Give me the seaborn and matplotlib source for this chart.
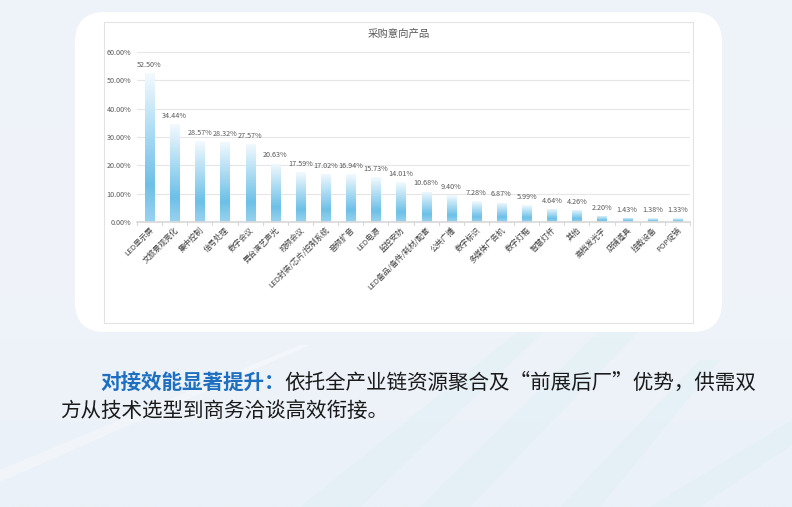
import numpy as np
import matplotlib
matplotlib.use('Agg')
import matplotlib.pyplot as plt
import seaborn as sns
import pandas as pd
from matplotlib.patches import FancyBboxPatch, Rectangle, Polygon
from matplotlib.colors import LinearSegmentedColormap

# --- data ---
products = ['LED显示屏', '文旅景观亮化', '集中控制', '信号处理', '数字会议', '舞台演艺声光',
            '视频会议', 'LED封装/芯片/控制系统', '音频扩音', 'LED电源', '监控安防',
            'LED备品/备件/耗材/配套', '公共广播', '数字标识', '多媒体广告机', '数字灯箱',
            '智慧灯杆', '其他', '高档发光字', '店铺道具', '挂载设备', 'POP促销']
share = [52.50, 34.44, 28.57, 28.32, 27.57, 20.63, 17.59, 17.02, 16.94, 15.73, 14.01,
         10.68, 9.40, 7.28, 6.87, 5.99, 4.64, 4.26, 2.20, 1.43, 1.38, 1.33]
y_ticks = [0, 10, 20, 30, 40, 50, 60]
title = '采购意向产品'
lead = '对接效能显著提升：'
body1 = '依托全产业链资源聚合及“前展后厂”优势，供需双'
body2 = '方从技术选型到商务洽谈高效衔接。'

df = pd.DataFrame({'product': products, 'share': share})

sns.set_theme(style='white')
plt.rcParams['font.family'] = ['Noto Sans CJK SC', 'DejaVu Sans']

W, H = 792, 507
fig = plt.figure(figsize=(W / 100, H / 100), dpi=100)

# --- page background ---
bg = fig.add_axes([0, 0, 1, 1], zorder=-10)
bg.set_xlim(0, W)
bg.set_ylim(H, 0)
bg.axis('off')
grad = np.linspace(0, 1, 256).reshape(-1, 1)
bg_cmap = LinearSegmentedColormap.from_list('bg', ['#eef2f9', '#f0f4fa', '#eaf1f8'])
bg.imshow(grad, cmap=bg_cmap, extent=[0, W, H, 0], aspect='auto')
streaks = [
    [(300, 507), (520, 330), (545, 330), (360, 507)],
    [(420, 507), (600, 330), (640, 330), (470, 507)],
    [(560, 507), (700, 360), (720, 360), (600, 507)],
    [(650, 507), (792, 420), (792, 445), (700, 507)],
]
for pts in streaks:
    bg.add_patch(Polygon(pts, closed=True, facecolor='#d8f0f2', edgecolor='none', alpha=0.3))
bg.add_patch(Polygon([(0, 470), (300, 345), (310, 345), (0, 482)], facecolor='#ffffff',
                     edgecolor='none', alpha=0.35))

# white rounded card
bg.add_patch(FancyBboxPatch((75 + 30, 12 + 30), 647 - 60, 320 - 60,
                            boxstyle='round,pad=30', facecolor='white', edgecolor='none'))
# chart frame
bg.add_patch(Rectangle((104, 22), 589, 301, facecolor='none', edgecolor='#e3e3e3', lw=0.8))

bg.text(399, 34, title, ha='center', va='center', fontsize=7.5, color='#595959')

# --- bar chart ---
ax = fig.add_axes([137 / W, 1 - 222 / H, (690 - 137) / W, (222 - 52) / H])
sns.barplot(data=df, x='product', y='share', ax=ax, width=0.36, color='#6cc0e8',
            saturation=1, edgecolor='none')
ax.set_ylim(0, 60)
ax.set_xlim(-0.5, len(products) - 0.5)
ax.set_yticks(y_ticks)
ax.set_yticklabels([f'{v:.2f}%' for v in y_ticks], fontsize=5.2, color='#595959')
ax.yaxis.grid(True, color='#e6e6e6', lw=0.8)
ax.set_axisbelow(True)
ax.set_xlabel('')
ax.set_ylabel('')
for s in ['top', 'right', 'left']:
    ax.spines[s].set_visible(False)
ax.spines['bottom'].set_color('#d9d9d9')
ax.tick_params(axis='y', length=0, pad=4)
ax.set_xticks(range(len(products)))
ax.set_xticklabels(products, rotation=45, ha='right', rotation_mode='anchor',
                   fontsize=5.6, color='#404040')
ax.tick_params(axis='x', length=0, pad=3)
for b in np.arange(-0.5, len(products), 1):
    ax.plot([b, b], [0, -1.2], color='#d9d9d9', lw=0.8, clip_on=False)

bar_cmap = LinearSegmentedColormap.from_list(
    'bar', [(0, '#f4fafe'), (0.75, '#6cc0e8'), (1, '#9ad3ee')])
vgrad = np.linspace(0, 1, 256).reshape(-1, 1)
for patch, v in zip(ax.patches, share):
    x0, w = patch.get_x(), patch.get_width()
    patch.set_facecolor('none')
    im = ax.imshow(vgrad, cmap=bar_cmap, aspect='auto',
                   extent=[x0, x0 + w, 0, v], origin='upper', zorder=2)
    im.set_clip_path(patch)
    ax.text(x0 + w / 2, v + 1.5, f'{v:.2f}%', ha='center', va='bottom',
            fontsize=5.2, color='#595959')
ax.set_xlim(-0.5, len(products) - 0.5)
ax.set_ylim(0, 60)

# --- caption text ---
t1 = fig.text(100 / W, 1 - 383 / H, lead, fontsize=14.8, color='#1f6fc1',
              fontweight='bold', va='center')
fig.canvas.draw()
bb = t1.get_window_extent()
fig.text(bb.x1 / W, 1 - 383 / H, body1, fontsize=14.8, color='#1a1a1a', va='center',
         fontweight='medium')
fig.text(60 / W, 1 - 411 / H, body2, fontsize=14.8, color='#1a1a1a', va='center',
         fontweight='medium')

fig.savefig('out.png', dpi=100)
